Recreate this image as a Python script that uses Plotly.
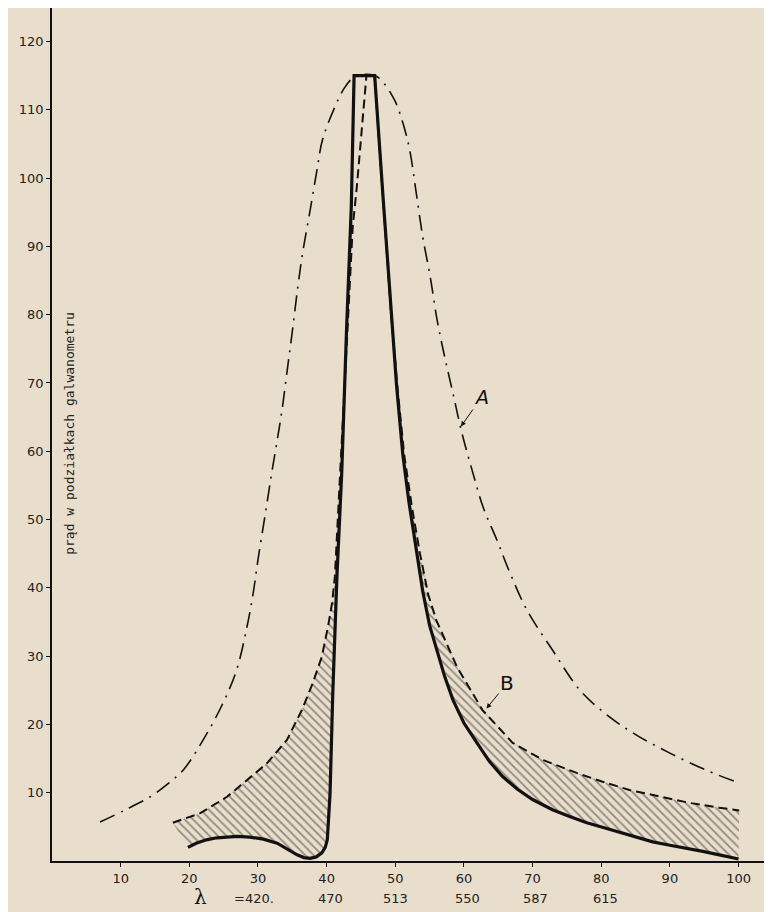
import plotly.graph_objects as go

# Curve A (dash-dot)
a_x = [7.0, 10.5, 14.3, 17.0, 19.1, 22.0, 24.9, 26.9, 28.4, 29.3, 30.0, 31.0, 32.0, 32.8, 33.5, 34.2,
       34.9, 35.8, 36.5, 37.6, 38.6, 39.4, 41.2, 42.6, 44.0, 45.5, 47.0, 48.0, 49.9, 51.1, 52.1,
       53.0, 54.0, 55.1, 56.1, 57.2, 58.4, 59.7, 61.2, 62.8, 64.8, 66.7, 69.2, 72.9, 76.9, 81.2,
       85.2, 90.0, 95.3, 100.1]
a_y = [5.7, 7.4, 9.4, 11.4, 13.3, 17.7, 23.1, 28.0, 34.3, 39.2, 44.1, 50.4, 56.8, 61.6, 66.0, 71.4,
       76.7, 84.0, 89.0, 95.3, 101.2, 105.6, 110.4, 113.2, 114.8, 115.2, 115.0, 114.3, 111.4, 108.1, 104.1,
       98.2, 91.4, 85.5, 79.2, 73.8, 68.5, 62.7, 57.2, 51.8, 47.0, 42.2, 36.7, 30.9, 25.0, 21.1,
       18.4, 15.8, 13.3, 11.4]

# Curve B (dashed)
b_x = [17.6, 21.6, 25.5, 28.4, 31.3, 34.2, 36.4, 38.0, 39.3, 40.2, 40.8, 41.2, 42.0, 42.8, 43.4, 43.8,
       44.4, 45.1, 45.8, 47.0, 48.2, 49.4, 50.3, 51.3, 52.4, 53.6, 54.8, 56.0, 59.0, 62.7, 67.1, 71.5, 76.4,
       80.2, 84.1, 88.5, 92.9, 97.2, 100.1]
b_y = [5.6, 7.0, 9.4, 11.9, 14.3, 17.7, 22.1, 26.1, 29.9, 34.3, 37.8, 41.6, 57.0, 72.0, 85.0, 92.8,
       98.7, 107.5, 115.0, 114.8, 97.5, 80.0, 69.5, 59.5, 52.0, 45.0, 39.0, 35.2, 28.4, 22.1, 17.3, 14.8, 12.9,
       11.6, 10.4, 9.4, 8.5, 7.8, 7.4]

# Solid curve
s_x = [19.8, 21.0, 22.5, 24.0, 25.5, 27.0, 28.8, 30.8, 32.8, 34.3, 35.7, 36.7, 37.6, 38.5, 39.3,
       39.8, 40.1, 40.5, 40.9, 41.5, 42.2, 42.9, 43.6, 44.0, 47.0, 48.2, 49.4, 50.2, 51.1, 52.0,
       53.0, 54.0, 55.0, 56.0, 57.2, 58.4, 60.0, 61.9, 63.7, 65.6, 67.8, 70.0, 72.9, 75.4, 77.9, 80.3,
       82.7, 85.1, 87.5, 90.0, 92.4, 94.8, 97.2, 100.0]
s_y = [2.0, 2.6, 3.1, 3.4, 3.5, 3.6, 3.5, 3.2, 2.6, 1.7, 0.9, 0.5, 0.4, 0.6, 1.2,
       2.0, 3.1, 9.9, 24.6, 41.6, 56.8, 77.7, 96.0, 115.0, 115.0, 97.5, 80.0, 69.5, 59.5, 52.5,
       46.0, 39.5, 34.5, 30.9, 27.0, 23.6, 20.2, 17.3, 14.6, 12.4, 10.5, 9.0, 7.5, 6.5, 5.6, 4.9,
       4.2, 3.5, 2.8, 2.3, 1.9, 1.4, 0.9, 0.3]

x_ticks = [10, 20, 30, 40, 50, 60, 70, 80, 90, 100]
y_ticks = [10, 20, 30, 40, 50, 60, 70, 80, 90, 100, 110, 120]
lambda_pos = [29.4, 40.5, 50.0, 60.5, 70.4, 80.6]
lambda_txt = ["=420.", "470", "513", "550", "587", "615"]

INK = "#111111"
PAPER = "#e9ddcb"

fig = go.Figure()

# Hatched regions between B and the solid curve
iB_left_end = b_x.index(43.8)
iS_left_end = s_x.index(43.6)
left_x = b_x[:iB_left_end + 1] + s_x[:iS_left_end + 1][::-1]
left_y = b_y[:iB_left_end + 1] + s_y[:iS_left_end + 1][::-1]

iB_right_start = b_x.index(52.4)
iS_right_start = s_x.index(52.0)
right_x = b_x[iB_right_start:] + s_x[iS_right_start:][::-1]
right_y = b_y[iB_right_start:] + s_y[iS_right_start:][::-1]

for px, py in [(left_x, left_y), (right_x, right_y)]:
    fig.add_trace(go.Scatter(
        x=px, y=py, mode="lines", fill="toself",
        line=dict(width=0, color="rgba(0,0,0,0)"),
        fillcolor="rgba(0,0,0,0)",
        fillpattern=dict(shape="\\", fgcolor="#333333", bgcolor="rgba(0,0,0,0)",
                         size=6, solidity=0.28, fillmode="overlay"),
        hoverinfo="skip", showlegend=False))

fig.add_trace(go.Scatter(x=a_x, y=a_y, mode="lines", line_shape="spline",
                         line=dict(color=INK, width=1.6, dash="16px,7px,2px,7px", smoothing=1.0),
                         showlegend=False, name="A"))
fig.add_trace(go.Scatter(x=b_x, y=b_y, mode="lines",
                         line=dict(color=INK, width=2, dash="9px,5px"),
                         showlegend=False, name="B"))
fig.add_trace(go.Scatter(x=s_x, y=s_y, mode="lines",
                         line=dict(color=INK, width=3.2),
                         showlegend=False, name="solid"))

annotations = []
for xp, t in zip(lambda_pos, lambda_txt):
    annotations.append(dict(x=xp, y=-0.0445, xref="x", yref="paper", text=t, showarrow=False,
                            xanchor="center", yanchor="middle",
                            font=dict(family="DejaVu Sans", size=13, color="#222")))
annotations.append(dict(x=21.6, y=-0.0425, xref="x", yref="paper", text="λ", showarrow=False,
                        xanchor="center", yanchor="middle",
                        font=dict(family="DejaVu Serif", size=20, color="#111")))
annotations.append(dict(x=59.4, y=63.4, xref="x", yref="y", text="<i>A</i>", showarrow=True,
                        ax=22, ay=-31, arrowhead=2, arrowsize=1, arrowwidth=1, arrowcolor=INK,
                        standoff=2, font=dict(family="DejaVu Sans", size=19, color=INK)))
annotations.append(dict(x=63.1, y=22.1, xref="x", yref="y", text="B", showarrow=True,
                        ax=22, ay=-27, arrowhead=2, arrowsize=1, arrowwidth=1, arrowcolor=INK,
                        standoff=2, font=dict(family="DejaVu Sans", size=20, color=INK)))
annotations.append(dict(x=0.0252, y=0.502, xref="paper", yref="paper",
                        xanchor="center", yanchor="middle",
                        text="prąd w podziałkach galwanometru", textangle=-90, showarrow=False,
                        font=dict(family="DejaVu Sans Mono", size=13, color="#222")))

fig.update_layout(
    width=772, height=912,
    margin=dict(l=44, r=14, t=0, b=59, autoexpand=False),
    paper_bgcolor=PAPER, plot_bgcolor=PAPER,
    annotations=annotations,
    font=dict(family="DejaVu Sans", color="#222"),
)
fig.update_xaxes(range=[0, 104], tickvals=x_ticks, ticktext=[str(v) for v in x_ticks],
                 showgrid=False, zeroline=False, showline=True, linecolor=INK, linewidth=2,
                 ticks="outside", ticklen=4, tickcolor=INK, tickfont=dict(size=13),
                 automargin=False)
fig.update_yaxes(range=[0, 124.9], tickvals=y_ticks, ticktext=[str(v) for v in y_ticks],
                 showgrid=False, zeroline=False, showline=True, linecolor=INK, linewidth=1.6,
                 ticks="outside", ticklen=4, tickcolor=INK, tickfont=dict(size=13),
                 automargin=False)

fig.write_html("out.html")
